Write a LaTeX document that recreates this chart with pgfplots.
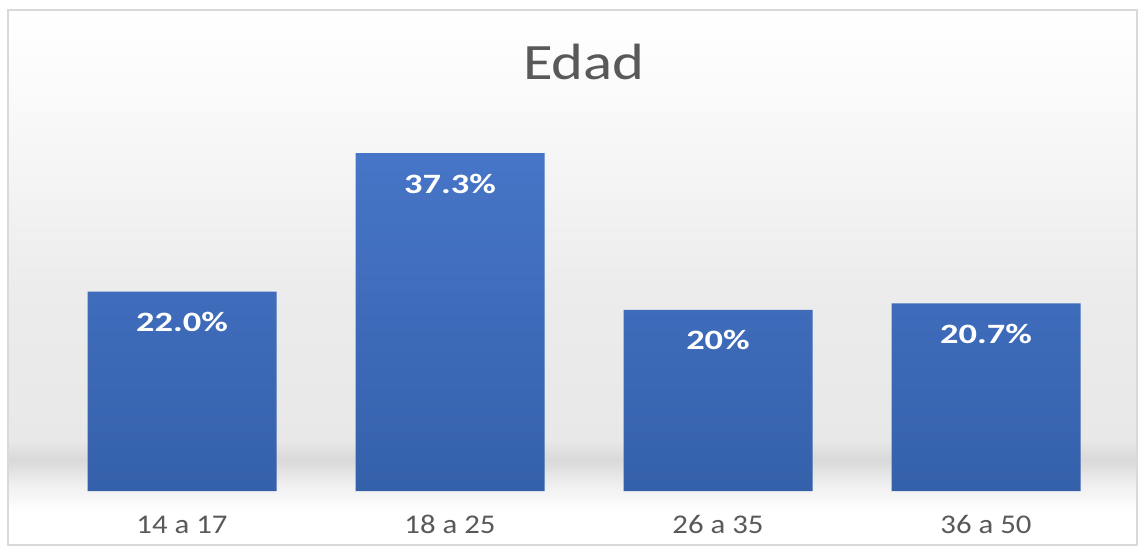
\documentclass[border=0pt]{standalone}
\usepackage{pgfplots}
\pgfplotsset{compat=1.18}
\usepackage{fontspec}
\setmainfont{Carlito}
\newfontfamily\titlefont{Carlito}[FakeStretch=1.19]
\newfontfamily\tickfont{Carlito}[FakeStretch=1.14]
\newfontfamily\labfont{Carlito}[FakeStretch=1.30]
\definecolor{txt}{HTML}{595959}
\definecolor{bartop}{HTML}{4775C7}
\definecolor{barbot}{HTML}{3561AB}
\begin{document}
\begin{tikzpicture}[x=0.5pt,y=0.5pt]
\path (0,0) rectangle (1145,552);
% background
\shade[top color=white, bottom color=gray!4] (8,452) rectangle (1137,542);
\shade[top color=gray!4, bottom color=gray!15] (8,262) rectangle (1137,452);
\shade[top color=gray!15, bottom color=gray!18] (8,112) rectangle (1137,262);
\shade[top color=gray!18, bottom color=gray!30] (8,92) rectangle (1137,112);
\shade[top color=gray!30, bottom color=gray!12] (8,67) rectangle (1137,92);
\shade[top color=gray!12, bottom color=white] (8,40) rectangle (1137,67);
\fill[white] (8,7) rectangle (1137,40);
\draw[gray!30, line width=0.6pt] (8,7) rectangle (1137,542);
\node[font=\titlefont\fontsize{25.5}{28}\selectfont, text=txt, anchor=base] at (584,472) {Edad};
\begin{axis}[
  at={(24pt,30.5pt)}, anchor=south west,
  scale only axis, width=536pt, height=190.25pt,
  xmin=-0.5, xmax=3.5, ymin=0, ymax=42,
  axis line style={draw=none}, tick style={draw=none},
  ytick=\empty,
  xtick=data,
  xticklabels={14 a 17, 18 a 25, 26 a 35, 36 a 50},
  xticklabel style={font=\tickfont\fontsize{13.5}{15}\selectfont, text=txt, anchor=base, yshift=-21pt},
  clip=false,
]
\addplot[ybar, bar width=94.5pt, draw=none, top color=bartop, bottom color=barbot,
  nodes near coords, point meta=explicit symbolic,
  nodes near coords style={font=\labfont\bfseries\fontsize{14}{16}\selectfont, text=white, anchor=base, yshift=-20pt}]
coordinates {(0,22.0) [22.0\%] (1,37.3) [37.3\%] (2,20.0) [20\%] (3,20.7) [20.7\%]};
\end{axis}
\end{tikzpicture}
\end{document}
